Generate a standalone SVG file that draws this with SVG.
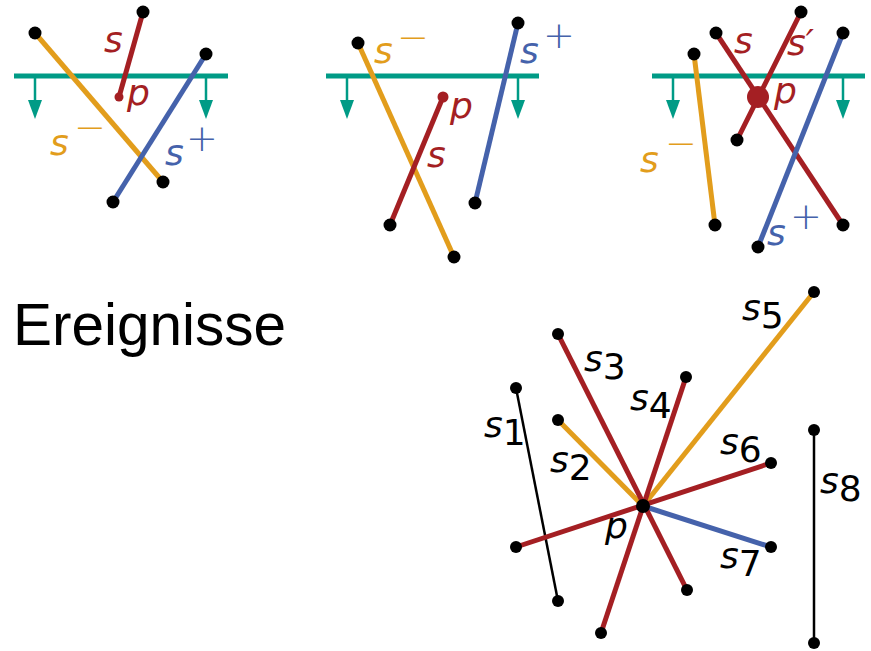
<svg xmlns="http://www.w3.org/2000/svg" width="871" height="651" viewBox="0 0 871 651">
<defs>
<style>
.bg{fill:#ffffff}
.sweep{stroke:#009B86;stroke-width:5;fill:none}
.arr{stroke:#009B86;stroke-width:2.5;fill:none}
.seg{stroke-width:5;fill:none;stroke-linecap:butt}
.o{stroke:#E29D1C}
.r{stroke:#A41F23}
.b{stroke:#4562AB}
.k{stroke:#000;stroke-width:2.5;fill:none}
.dot{fill:#000}
.m{font-family:"DejaVu Sans",sans-serif;font-size:36px;font-style:italic}
.mb{font-family:"DejaVu Sans",sans-serif;font-size:36px;font-style:italic;fill:#000}
.d{font-style:normal}
.sg{font-family:"DejaVu Sans",sans-serif;font-size:38px;font-weight:200;text-anchor:middle}
.to{fill:#E29D1C}
.tr{fill:#A41F23}
.tb{fill:#4562AB}
</style>
</defs>
<rect class="bg" x="0" y="0" width="871" height="651"/>

<!-- Panel 1 -->
<g id="panel1">
<g id="p1-sweep">
<line class="sweep" x1="14" y1="76" x2="228" y2="76"/>
<line class="arr" x1="35" y1="76" x2="35" y2="100"/>
<path d="M28,100 L42,100 L35,119 Z" fill="#009B86"/>
<line class="arr" x1="206" y1="76" x2="206" y2="100"/>
<path d="M199,100 L213,100 L206,119 Z" fill="#009B86"/>
</g>
<g id="p1-sminus"><line class="seg o" x1="35" y1="33" x2="163" y2="182"/></g>
<g id="p1-s"><line class="seg r" x1="143" y1="12" x2="119" y2="97"/></g>
<g id="p1-splus"><line class="seg b" x1="206" y1="54" x2="113" y2="202"/></g>
<circle cx="119" cy="97" r="4.5" fill="#A41F23"/>
<circle class="dot" cx="35" cy="33" r="6.5"/>
<circle class="dot" cx="163" cy="182" r="6.5"/>
<circle class="dot" cx="143" cy="12" r="6.5"/>
<circle class="dot" cx="206" cy="54" r="6.5"/>
<circle class="dot" cx="113" cy="202" r="6.5"/>
<text class="m tr" x="104" y="52">s</text>
<text class="m tr" x="127" y="105">p</text>
<text class="m to" x="50" y="155">s</text>
<text class="sg to" x="90" y="140">−</text>
<text class="m tb" x="165" y="165">s</text>
<text class="sg tb" x="202" y="151">+</text>
</g>

<!-- Panel 2 -->
<g id="panel2">
<g id="p2-sweep">
<line class="sweep" x1="326" y1="76" x2="539" y2="76"/>
<line class="arr" x1="347" y1="76" x2="347" y2="100"/>
<path d="M340,100 L354,100 L347,119 Z" fill="#009B86"/>
<line class="arr" x1="518" y1="76" x2="518" y2="100"/>
<path d="M511,100 L525,100 L518,119 Z" fill="#009B86"/>
</g>
<g id="p2-sminus"><line class="seg o" x1="358" y1="43" x2="454" y2="257"/></g>
<g id="p2-s"><line class="seg r" x1="443" y1="97" x2="390" y2="225"/></g>
<g id="p2-splus"><line class="seg b" x1="518" y1="23" x2="475" y2="203"/></g>
<circle cx="443" cy="97" r="5.5" fill="#A41F23"/>
<circle class="dot" cx="358" cy="43" r="6.5"/>
<circle class="dot" cx="454" cy="257" r="6.5"/>
<circle class="dot" cx="390" cy="225" r="6.5"/>
<circle class="dot" cx="518" cy="23" r="6.5"/>
<circle class="dot" cx="475" cy="203" r="6.5"/>
<text class="m to" x="374" y="63">s</text>
<text class="sg to" x="413" y="50">−</text>
<text class="m tb" x="520" y="63">s</text>
<text class="sg tb" x="559" y="48">+</text>
<text class="m tr" x="450" y="118">p</text>
<text class="m tr" x="427" y="167">s</text>
</g>

<!-- Panel 3 -->
<g id="panel3">
<g id="p3-sweep">
<line class="sweep" x1="652" y1="76" x2="865" y2="76"/>
<line class="arr" x1="673" y1="76" x2="673" y2="100"/>
<path d="M666,100 L680,100 L673,119 Z" fill="#009B86"/>
<line class="arr" x1="843" y1="76" x2="843" y2="100"/>
<path d="M836,100 L850,100 L843,119 Z" fill="#009B86"/>
</g>
<g id="p3-sminus"><line class="seg o" x1="694" y1="54" x2="715" y2="225"/></g>
<g id="p3-s"><line class="seg r" x1="716" y1="33" x2="843" y2="225"/></g>
<g id="p3-sprime"><line class="seg r" x1="801" y1="12" x2="737" y2="140"/></g>
<g id="p3-splus"><line class="seg b" x1="843" y1="33" x2="758" y2="247"/></g>
<circle cx="758" cy="97" r="11" fill="#A41F23"/>
<circle class="dot" cx="694" cy="54" r="6.5"/>
<circle class="dot" cx="715" cy="225" r="6.5"/>
<circle class="dot" cx="716" cy="33" r="6.5"/>
<circle class="dot" cx="843" cy="225" r="6.5"/>
<circle class="dot" cx="801" cy="12" r="6.5"/>
<circle class="dot" cx="737" cy="140" r="6.5"/>
<circle class="dot" cx="843" cy="33" r="6.5"/>
<circle class="dot" cx="758" cy="247" r="6.5"/>
<text class="m tr" x="734" y="53">s</text>
<text class="m tr" x="787" y="55">s′</text>
<text class="m tr" x="774" y="103">p</text>
<text class="m to" x="640" y="172">s</text>
<text class="sg to" x="681" y="156">−</text>
<text class="m tb" x="767" y="245">s</text>
<text class="sg tb" x="806" y="229">+</text>
</g>

<text id="title" x="13" y="345" font-family="'Liberation Sans',Arial,sans-serif" font-size="58.5" fill="#000">Ereignisse</text>

<!-- Bottom star -->
<g id="star">
<g id="connectors">
<line id="s1" class="k" x1="516" y1="388" x2="558" y2="601"/>
<line id="s8" class="k" x1="814" y1="430" x2="814" y2="643"/>
<line id="s2" class="seg o" x1="558" y1="420" x2="643" y2="506"/>
<line id="s5" class="seg o" x1="814" y1="292" x2="643" y2="506"/>
<line id="s7" class="seg b" x1="643" y1="506" x2="771" y2="547"/>
<line id="s3" class="seg r" x1="558" y1="334" x2="687" y2="590"/>
<line id="s4" class="seg r" x1="686" y1="377" x2="601" y2="633"/>
<line id="s6" class="seg r" x1="771" y1="463" x2="516" y2="547"/>
</g>
<g id="endpoints">
<circle class="dot" cx="516" cy="388" r="6"/>
<circle class="dot" cx="558" cy="601" r="6"/>
<circle class="dot" cx="814" cy="430" r="6"/>
<circle class="dot" cx="814" cy="643" r="6"/>
<circle class="dot" cx="558" cy="420" r="6"/>
<circle class="dot" cx="814" cy="292" r="6"/>
<circle class="dot" cx="771" cy="547" r="6"/>
<circle class="dot" cx="558" cy="334" r="6"/>
<circle class="dot" cx="687" cy="590" r="6"/>
<circle class="dot" cx="686" cy="377" r="6"/>
<circle class="dot" cx="601" cy="633" r="6"/>
<circle class="dot" cx="771" cy="463" r="6"/>
<circle class="dot" cx="516" cy="547" r="6"/>
<circle id="p" class="dot" cx="643" cy="506" r="7"/>
</g>
<g id="labels">
<text class="mb" x="484" y="437">s<tspan class="d" dy="8">1</tspan></text>
<text class="mb" x="550" y="472">s<tspan class="d" dy="8">2</tspan></text>
<text class="mb" x="584" y="371">s<tspan class="d" dy="8">3</tspan></text>
<text class="mb" x="630" y="410">s<tspan class="d" dy="8">4</tspan></text>
<text class="mb" x="742" y="320">s<tspan class="d" dy="8">5</tspan></text>
<text class="mb" x="720" y="454">s<tspan class="d" dy="8">6</tspan></text>
<text class="mb" x="720" y="568">s<tspan class="d" dy="8">7</tspan></text>
<text class="mb" x="820" y="493">s<tspan class="d" dy="8">8</tspan></text>
<text class="mb" x="605" y="538">p</text>
</g>
</g>
</svg>
